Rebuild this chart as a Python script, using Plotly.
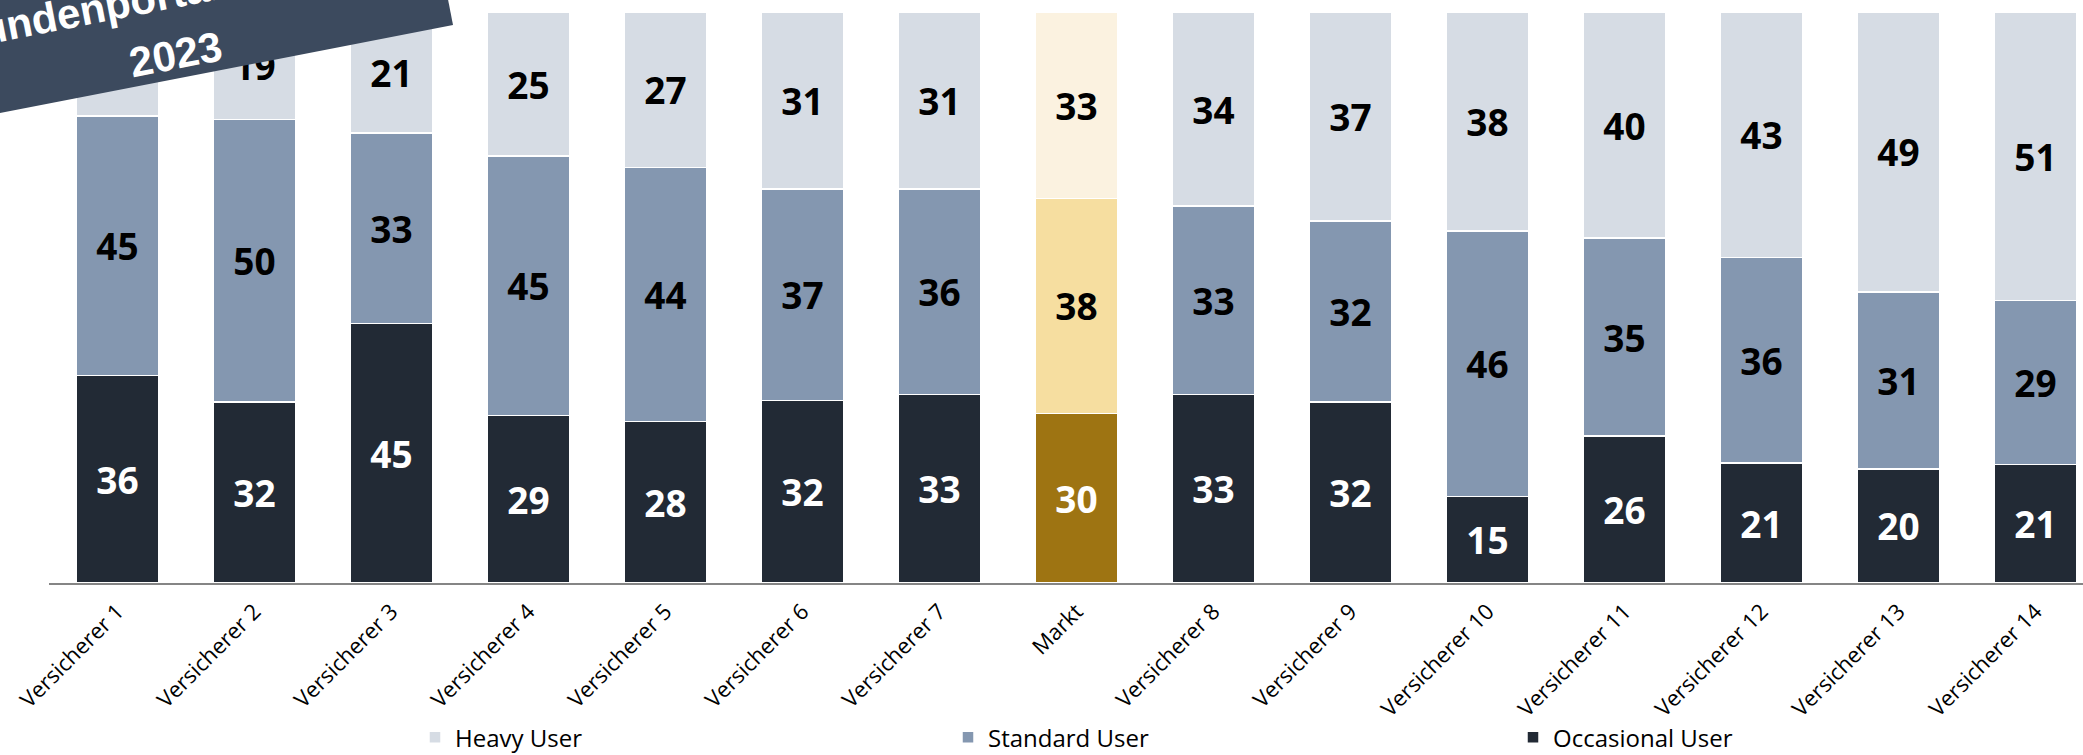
import math
import plotly.graph_objects as go

# ---------------- data ----------------
categories = ["Versicherer 1", "Versicherer 2", "Versicherer 3", "Versicherer 4",
              "Versicherer 5", "Versicherer 6", "Versicherer 7", "Markt",
              "Versicherer 8", "Versicherer 9", "Versicherer 10", "Versicherer 11",
              "Versicherer 12", "Versicherer 13", "Versicherer 14"]
occasional = [36, 32, 45, 29, 28, 32, 33, 30, 33, 32, 15, 26, 21, 20, 21]
standard = [45, 50, 33, 45, 44, 37, 36, 38, 33, 32, 46, 35, 36, 31, 29]
heavy = [18, 19, 21, 25, 27, 31, 31, 33, 34, 37, 38, 40, 43, 49, 51]
series_names = ["Heavy User", "Standard User", "Occasional User"]
banner_line1 = "Kundenportal"
banner_line2 = "2023"

# ---------------- styles ----------------
W, H = 2083, 755
L_M, R_M, T_M, B_M = 49, 0, 12, 172
plot_w = W - L_M - R_M
plot_h = H - T_M - B_M
pitch = 137.0

C_OCC, C_STD, C_HEAVY = "#222a35", "#8497b0", "#d6dce4"
M_OCC, M_STD, M_HEAVY = "#9e7412", "#f6dea0", "#fbf2e0"
market_idx = categories.index("Markt")


def colors(base, market):
    return [market if i == market_idx else base for i in range(len(categories))]


def px2x(px):
    return (px - L_M) / plot_w


def py2y(py):
    return (H - B_M - py) / plot_h


label_font = dict(family="Open Sans", size=37, weight=700)

fig = go.Figure()
traces = [
    (series_names[2], occasional, colors(C_OCC, M_OCC), "white", "legend3"),
    (series_names[1], standard, colors(C_STD, M_STD), "black", "legend2"),
    (series_names[0], heavy, colors(C_HEAVY, M_HEAVY), "black", "legend"),
]
for name, vals, cols, tcol, lg in traces:
    fig.add_trace(go.Bar(
        x=categories, y=vals, name=name,
        marker=dict(color=cols, line=dict(color="white", width=1.5)),
        width=0.606,
        text=vals, texttemplate="%{text}", textposition="inside",
        insidetextanchor="middle", textangle=0, constraintext="none",
        textfont=dict(color=tcol, **label_font),
        legend=lg, hoverinfo="skip",
    ))

fig.update_layout(
    width=W, height=H, autosize=False,
    margin=dict(l=L_M, r=R_M, t=T_M, b=B_M, pad=0),
    paper_bgcolor="white", plot_bgcolor="white",
    barmode="stack", barnorm="percent", bargap=0.394,
    xaxis=dict(range=[-0.5, -0.5 + plot_w / pitch], showgrid=False, zeroline=False,
               showline=True, linecolor="#858585", linewidth=2, ticks="",
               tickangle=-45, ticklabelstandoff=5, automargin=False,
               tickfont=dict(family="Open Sans", size=22, color="#000000")),
    yaxis=dict(range=[0, 100], visible=False, showgrid=False, zeroline=False,
               automargin=False),
    showlegend=True,
)

leg_common = dict(orientation="h", yref="container", y=0.023, yanchor="middle",
                  xanchor="left", bgcolor="rgba(0,0,0,0)", borderwidth=0,
                  font=dict(family="Open Sans", size=24, color="#000000"))
fig.update_layout(
    legend=dict(x=px2x(458 - 43), **leg_common),
    legend2=dict(x=px2x(991 - 43), **leg_common),
    legend3=dict(x=px2x(1556 - 43), **leg_common),
)

# ---------------- banner ----------------
th = math.radians(11)
d = (math.cos(th), -math.sin(th))
nv = (-math.sin(th), -math.cos(th))
BR = (453, 25)
BL = (BR[0] - 800 * d[0], BR[1] - 800 * d[1])
TR = (BR[0] + 180 * nv[0], BR[1] + 180 * nv[1])
TL = (BL[0] + 180 * nv[0], BL[1] + 180 * nv[1])
pts = [BL, BR, TR, TL]
path = "M " + " L ".join(f"{px2x(p[0]):.5f},{py2y(p[1]):.5f}" for p in pts) + " Z"
fig.add_shape(type="path", path=path, xref="paper", yref="paper",
              fillcolor="#3c4a5e", line=dict(width=0), layer="above")

banner_font = dict(family="Liberation Sans", size=42, color="white", weight=700)
fig.add_annotation(text=banner_line2, x=px2x(175), y=py2y(55), xref="paper", yref="paper",
                   showarrow=False, textangle=-11, xanchor="center", yanchor="middle",
                   font=banner_font)
fig.add_annotation(text=banner_line1, x=px2x(85), y=py2y(11), xref="paper", yref="paper",
                   showarrow=False, textangle=-11, xanchor="center", yanchor="middle",
                   font=banner_font)

fig.write_html("out.html")
